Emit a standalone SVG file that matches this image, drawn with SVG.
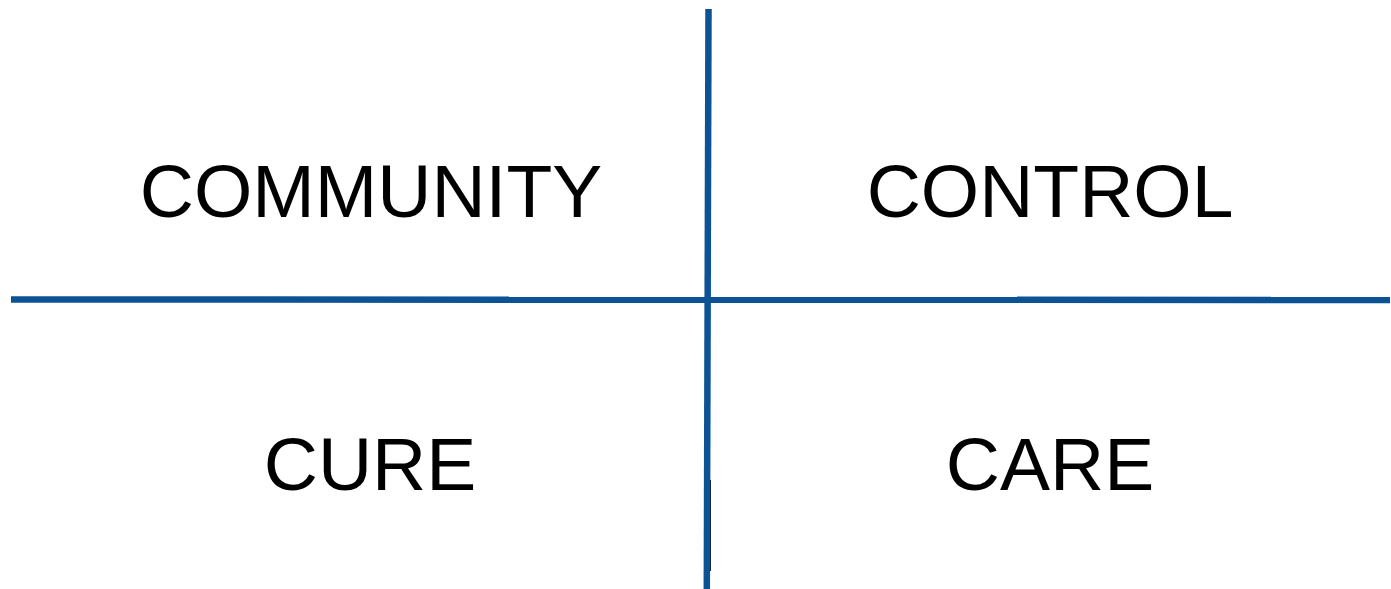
<svg xmlns="http://www.w3.org/2000/svg" width="1391" height="589" viewBox="0 0 1391 589">
<style>
.axis{stroke:#0b5394;stroke-width:6.5;fill:none}
.edge{stroke:#14263c;stroke-width:1;fill:none}
.lbl{font-family:"Liberation Sans",Arial,sans-serif;font-size:75px;fill:#000;text-anchor:middle}
</style>
<rect width="1391" height="589" fill="#fff"/>
<g id="connectors">
<line class="axis" x1="708.5" y1="9" x2="706.8" y2="589"/>
<line class="axis" x1="11" y1="299.5" x2="1390" y2="300"/>
<line class="edge" x1="710.5" y1="480" x2="710.5" y2="571"/>
</g>
<g id="community"><text class="lbl" x="371" y="217">COMMUNITY</text></g>
<g id="control"><text class="lbl" x="1050" y="217">CONTROL</text></g>
<g id="cure"><text class="lbl" x="370" y="490">CURE</text></g>
<g id="care"><text class="lbl" x="1050" y="490">CARE</text></g>
</svg>
